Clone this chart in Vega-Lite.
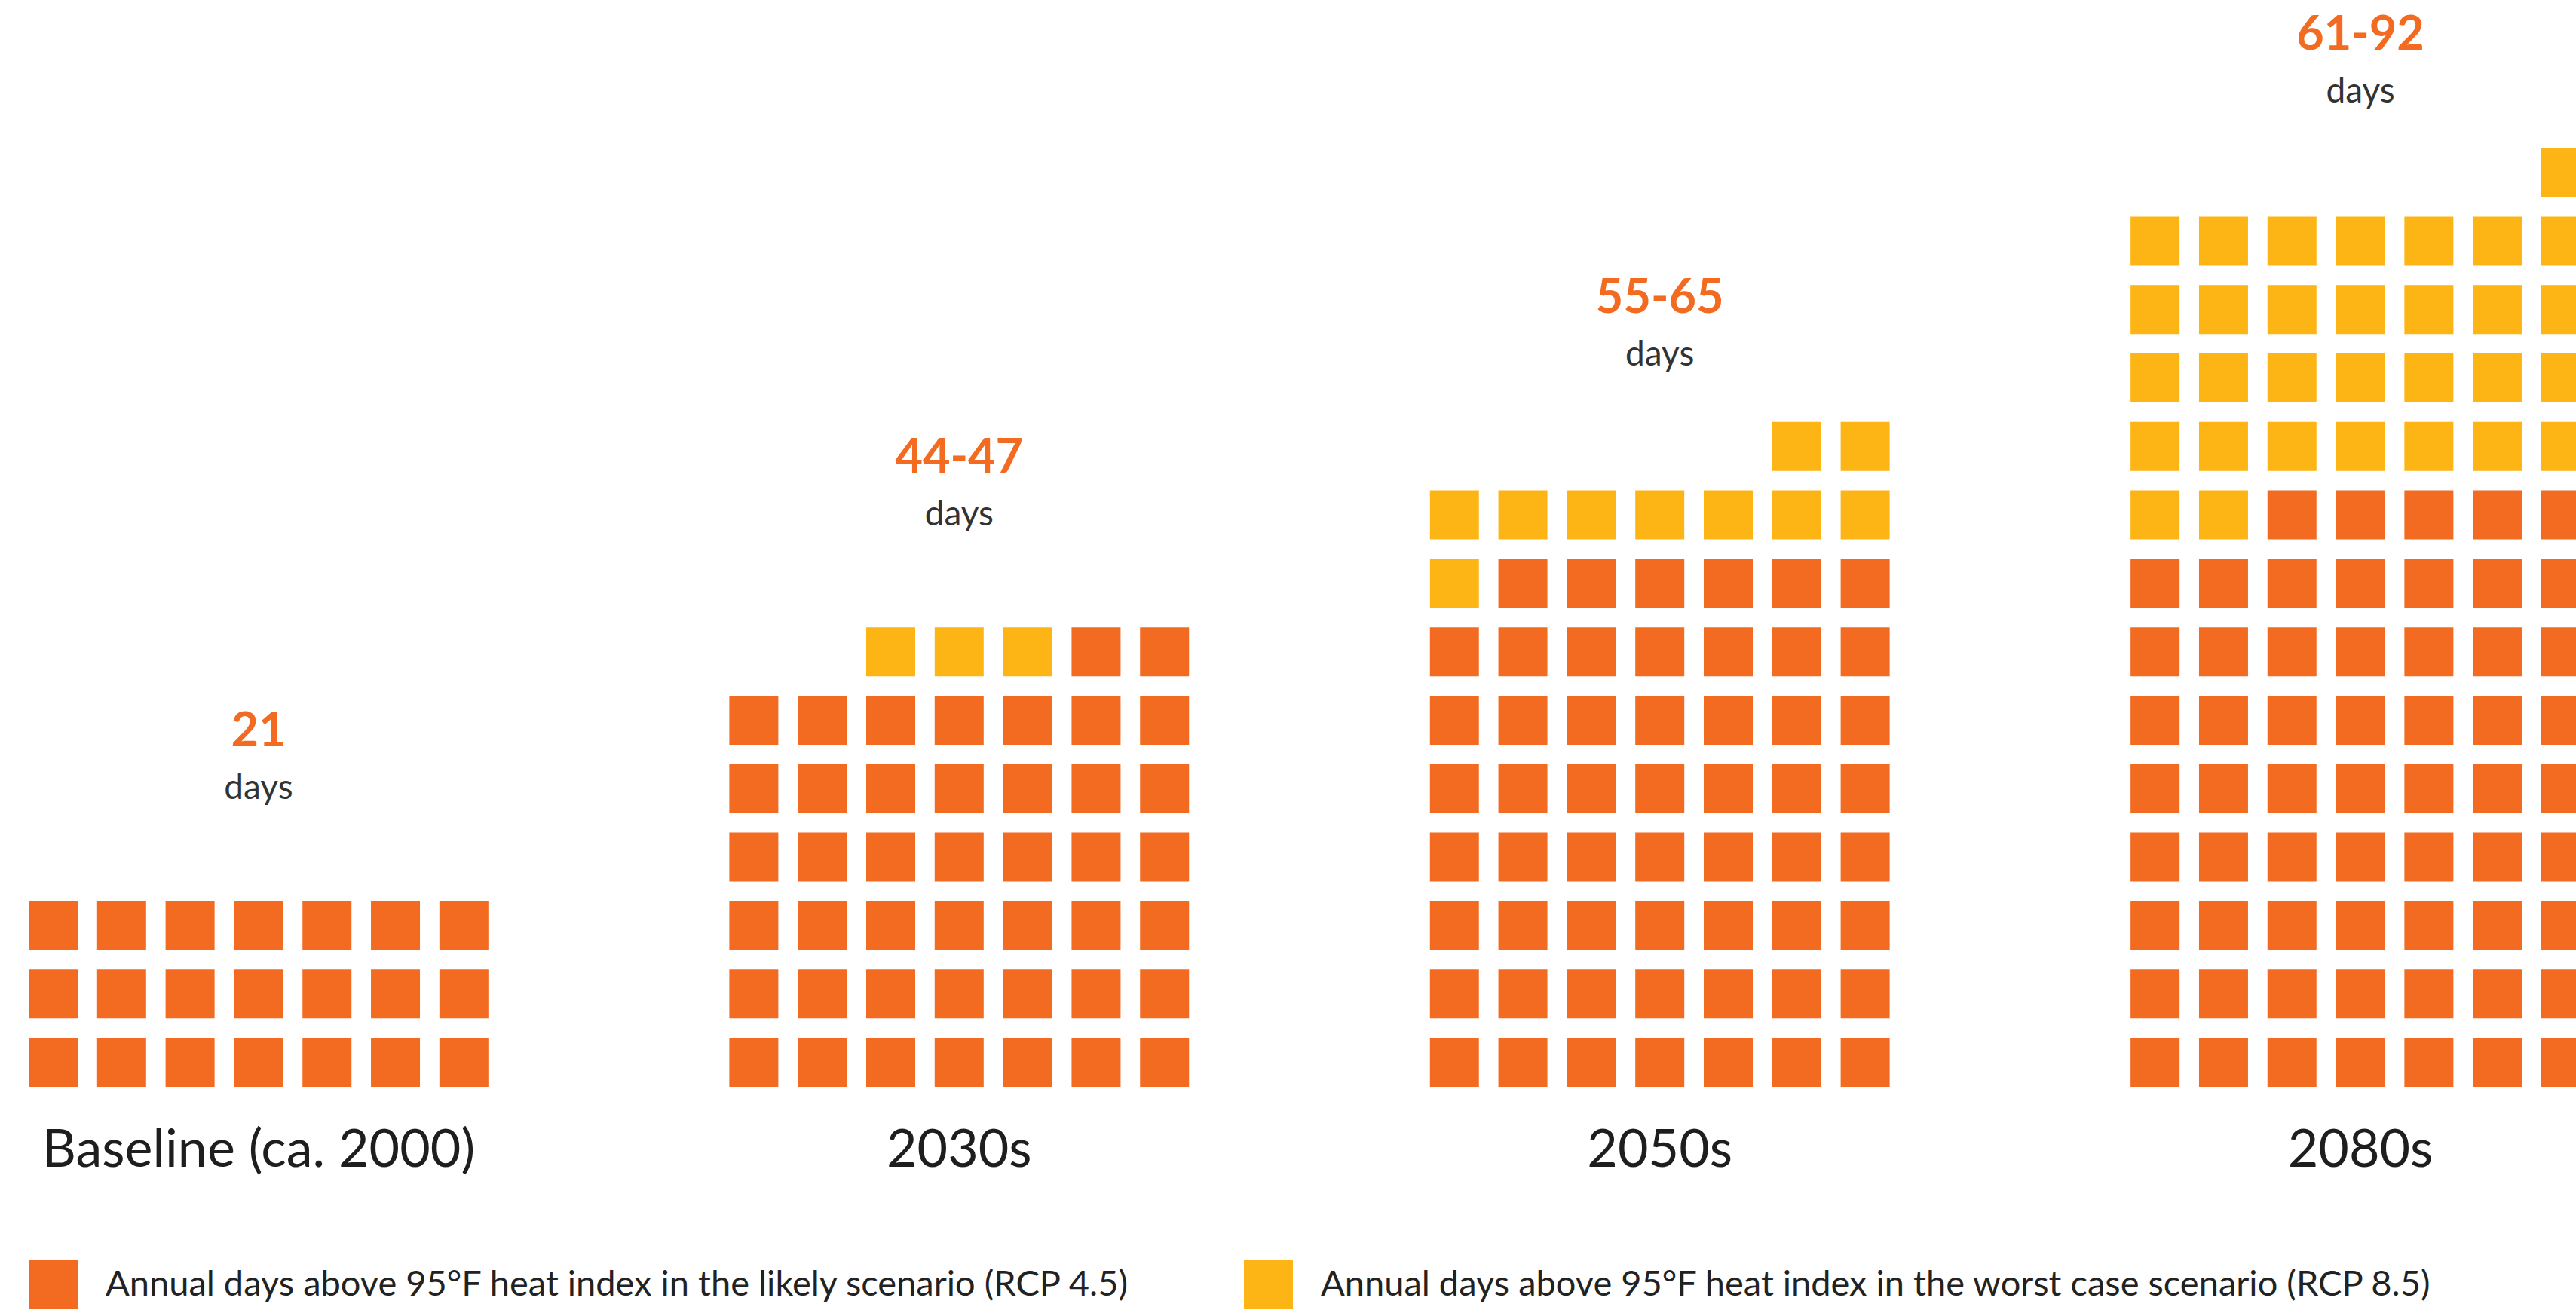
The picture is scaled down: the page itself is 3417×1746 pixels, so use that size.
{
"$schema": "https://vega.github.io/schema/vega-lite/v6.json",
"width": 3417, "height": 1746, "padding": 0,
"autosize": {"type": "none"},
"background": "white",
"config": {"view": {"stroke": null}, "font": "Lato"},
"datasets": {
"labels": [
{"p":"Baseline (ca. 2000)","range":"21","labelRow":4.849},
{"p":"2030s","range":"44-47","labelRow":8.847},
{"p":"2050s","range":"55-65","labelRow":11.182},
{"p":"2080s","range":"61-92","labelRow":15.026}
],
"cells": [
{"p":"Baseline (ca. 2000)","c":1,"r":1,"s":"RCP 4.5"},{"p":"Baseline (ca. 2000)","c":2,"r":1,"s":"RCP 4.5"},{"p":"Baseline (ca. 2000)","c":3,"r":1,"s":"RCP 4.5"},{"p":"Baseline (ca. 2000)","c":4,"r":1,"s":"RCP 4.5"},{"p":"Baseline (ca. 2000)","c":5,"r":1,"s":"RCP 4.5"},{"p":"Baseline (ca. 2000)","c":6,"r":1,"s":"RCP 4.5"},{"p":"Baseline (ca. 2000)","c":7,"r":1,"s":"RCP 4.5"},
{"p":"Baseline (ca. 2000)","c":1,"r":2,"s":"RCP 4.5"},{"p":"Baseline (ca. 2000)","c":2,"r":2,"s":"RCP 4.5"},{"p":"Baseline (ca. 2000)","c":3,"r":2,"s":"RCP 4.5"},{"p":"Baseline (ca. 2000)","c":4,"r":2,"s":"RCP 4.5"},{"p":"Baseline (ca. 2000)","c":5,"r":2,"s":"RCP 4.5"},{"p":"Baseline (ca. 2000)","c":6,"r":2,"s":"RCP 4.5"},{"p":"Baseline (ca. 2000)","c":7,"r":2,"s":"RCP 4.5"},
{"p":"Baseline (ca. 2000)","c":1,"r":3,"s":"RCP 4.5"},{"p":"Baseline (ca. 2000)","c":2,"r":3,"s":"RCP 4.5"},{"p":"Baseline (ca. 2000)","c":3,"r":3,"s":"RCP 4.5"},{"p":"Baseline (ca. 2000)","c":4,"r":3,"s":"RCP 4.5"},{"p":"Baseline (ca. 2000)","c":5,"r":3,"s":"RCP 4.5"},{"p":"Baseline (ca. 2000)","c":6,"r":3,"s":"RCP 4.5"},{"p":"Baseline (ca. 2000)","c":7,"r":3,"s":"RCP 4.5"},

{"p":"2030s","c":1,"r":1,"s":"RCP 4.5"},{"p":"2030s","c":2,"r":1,"s":"RCP 4.5"},{"p":"2030s","c":3,"r":1,"s":"RCP 4.5"},{"p":"2030s","c":4,"r":1,"s":"RCP 4.5"},{"p":"2030s","c":5,"r":1,"s":"RCP 4.5"},{"p":"2030s","c":6,"r":1,"s":"RCP 4.5"},{"p":"2030s","c":7,"r":1,"s":"RCP 4.5"},
{"p":"2030s","c":1,"r":2,"s":"RCP 4.5"},{"p":"2030s","c":2,"r":2,"s":"RCP 4.5"},{"p":"2030s","c":3,"r":2,"s":"RCP 4.5"},{"p":"2030s","c":4,"r":2,"s":"RCP 4.5"},{"p":"2030s","c":5,"r":2,"s":"RCP 4.5"},{"p":"2030s","c":6,"r":2,"s":"RCP 4.5"},{"p":"2030s","c":7,"r":2,"s":"RCP 4.5"},
{"p":"2030s","c":1,"r":3,"s":"RCP 4.5"},{"p":"2030s","c":2,"r":3,"s":"RCP 4.5"},{"p":"2030s","c":3,"r":3,"s":"RCP 4.5"},{"p":"2030s","c":4,"r":3,"s":"RCP 4.5"},{"p":"2030s","c":5,"r":3,"s":"RCP 4.5"},{"p":"2030s","c":6,"r":3,"s":"RCP 4.5"},{"p":"2030s","c":7,"r":3,"s":"RCP 4.5"},
{"p":"2030s","c":1,"r":4,"s":"RCP 4.5"},{"p":"2030s","c":2,"r":4,"s":"RCP 4.5"},{"p":"2030s","c":3,"r":4,"s":"RCP 4.5"},{"p":"2030s","c":4,"r":4,"s":"RCP 4.5"},{"p":"2030s","c":5,"r":4,"s":"RCP 4.5"},{"p":"2030s","c":6,"r":4,"s":"RCP 4.5"},{"p":"2030s","c":7,"r":4,"s":"RCP 4.5"},
{"p":"2030s","c":1,"r":5,"s":"RCP 4.5"},{"p":"2030s","c":2,"r":5,"s":"RCP 4.5"},{"p":"2030s","c":3,"r":5,"s":"RCP 4.5"},{"p":"2030s","c":4,"r":5,"s":"RCP 4.5"},{"p":"2030s","c":5,"r":5,"s":"RCP 4.5"},{"p":"2030s","c":6,"r":5,"s":"RCP 4.5"},{"p":"2030s","c":7,"r":5,"s":"RCP 4.5"},
{"p":"2030s","c":1,"r":6,"s":"RCP 4.5"},{"p":"2030s","c":2,"r":6,"s":"RCP 4.5"},{"p":"2030s","c":3,"r":6,"s":"RCP 4.5"},{"p":"2030s","c":4,"r":6,"s":"RCP 4.5"},{"p":"2030s","c":5,"r":6,"s":"RCP 4.5"},{"p":"2030s","c":6,"r":6,"s":"RCP 4.5"},{"p":"2030s","c":7,"r":6,"s":"RCP 4.5"},
{"p":"2030s","c":3,"r":7,"s":"RCP 8.5"},{"p":"2030s","c":4,"r":7,"s":"RCP 8.5"},{"p":"2030s","c":5,"r":7,"s":"RCP 8.5"},{"p":"2030s","c":6,"r":7,"s":"RCP 4.5"},{"p":"2030s","c":7,"r":7,"s":"RCP 4.5"},

{"p":"2050s","c":1,"r":1,"s":"RCP 4.5"},{"p":"2050s","c":2,"r":1,"s":"RCP 4.5"},{"p":"2050s","c":3,"r":1,"s":"RCP 4.5"},{"p":"2050s","c":4,"r":1,"s":"RCP 4.5"},{"p":"2050s","c":5,"r":1,"s":"RCP 4.5"},{"p":"2050s","c":6,"r":1,"s":"RCP 4.5"},{"p":"2050s","c":7,"r":1,"s":"RCP 4.5"},
{"p":"2050s","c":1,"r":2,"s":"RCP 4.5"},{"p":"2050s","c":2,"r":2,"s":"RCP 4.5"},{"p":"2050s","c":3,"r":2,"s":"RCP 4.5"},{"p":"2050s","c":4,"r":2,"s":"RCP 4.5"},{"p":"2050s","c":5,"r":2,"s":"RCP 4.5"},{"p":"2050s","c":6,"r":2,"s":"RCP 4.5"},{"p":"2050s","c":7,"r":2,"s":"RCP 4.5"},
{"p":"2050s","c":1,"r":3,"s":"RCP 4.5"},{"p":"2050s","c":2,"r":3,"s":"RCP 4.5"},{"p":"2050s","c":3,"r":3,"s":"RCP 4.5"},{"p":"2050s","c":4,"r":3,"s":"RCP 4.5"},{"p":"2050s","c":5,"r":3,"s":"RCP 4.5"},{"p":"2050s","c":6,"r":3,"s":"RCP 4.5"},{"p":"2050s","c":7,"r":3,"s":"RCP 4.5"},
{"p":"2050s","c":1,"r":4,"s":"RCP 4.5"},{"p":"2050s","c":2,"r":4,"s":"RCP 4.5"},{"p":"2050s","c":3,"r":4,"s":"RCP 4.5"},{"p":"2050s","c":4,"r":4,"s":"RCP 4.5"},{"p":"2050s","c":5,"r":4,"s":"RCP 4.5"},{"p":"2050s","c":6,"r":4,"s":"RCP 4.5"},{"p":"2050s","c":7,"r":4,"s":"RCP 4.5"},
{"p":"2050s","c":1,"r":5,"s":"RCP 4.5"},{"p":"2050s","c":2,"r":5,"s":"RCP 4.5"},{"p":"2050s","c":3,"r":5,"s":"RCP 4.5"},{"p":"2050s","c":4,"r":5,"s":"RCP 4.5"},{"p":"2050s","c":5,"r":5,"s":"RCP 4.5"},{"p":"2050s","c":6,"r":5,"s":"RCP 4.5"},{"p":"2050s","c":7,"r":5,"s":"RCP 4.5"},
{"p":"2050s","c":1,"r":6,"s":"RCP 4.5"},{"p":"2050s","c":2,"r":6,"s":"RCP 4.5"},{"p":"2050s","c":3,"r":6,"s":"RCP 4.5"},{"p":"2050s","c":4,"r":6,"s":"RCP 4.5"},{"p":"2050s","c":5,"r":6,"s":"RCP 4.5"},{"p":"2050s","c":6,"r":6,"s":"RCP 4.5"},{"p":"2050s","c":7,"r":6,"s":"RCP 4.5"},
{"p":"2050s","c":1,"r":7,"s":"RCP 4.5"},{"p":"2050s","c":2,"r":7,"s":"RCP 4.5"},{"p":"2050s","c":3,"r":7,"s":"RCP 4.5"},{"p":"2050s","c":4,"r":7,"s":"RCP 4.5"},{"p":"2050s","c":5,"r":7,"s":"RCP 4.5"},{"p":"2050s","c":6,"r":7,"s":"RCP 4.5"},{"p":"2050s","c":7,"r":7,"s":"RCP 4.5"},
{"p":"2050s","c":1,"r":8,"s":"RCP 8.5"},{"p":"2050s","c":2,"r":8,"s":"RCP 4.5"},{"p":"2050s","c":3,"r":8,"s":"RCP 4.5"},{"p":"2050s","c":4,"r":8,"s":"RCP 4.5"},{"p":"2050s","c":5,"r":8,"s":"RCP 4.5"},{"p":"2050s","c":6,"r":8,"s":"RCP 4.5"},{"p":"2050s","c":7,"r":8,"s":"RCP 4.5"},
{"p":"2050s","c":1,"r":9,"s":"RCP 8.5"},{"p":"2050s","c":2,"r":9,"s":"RCP 8.5"},{"p":"2050s","c":3,"r":9,"s":"RCP 8.5"},{"p":"2050s","c":4,"r":9,"s":"RCP 8.5"},{"p":"2050s","c":5,"r":9,"s":"RCP 8.5"},{"p":"2050s","c":6,"r":9,"s":"RCP 8.5"},{"p":"2050s","c":7,"r":9,"s":"RCP 8.5"},
{"p":"2050s","c":6,"r":10,"s":"RCP 8.5"},{"p":"2050s","c":7,"r":10,"s":"RCP 8.5"},

{"p":"2080s","c":1,"r":1,"s":"RCP 4.5"},{"p":"2080s","c":2,"r":1,"s":"RCP 4.5"},{"p":"2080s","c":3,"r":1,"s":"RCP 4.5"},{"p":"2080s","c":4,"r":1,"s":"RCP 4.5"},{"p":"2080s","c":5,"r":1,"s":"RCP 4.5"},{"p":"2080s","c":6,"r":1,"s":"RCP 4.5"},{"p":"2080s","c":7,"r":1,"s":"RCP 4.5"},
{"p":"2080s","c":1,"r":2,"s":"RCP 4.5"},{"p":"2080s","c":2,"r":2,"s":"RCP 4.5"},{"p":"2080s","c":3,"r":2,"s":"RCP 4.5"},{"p":"2080s","c":4,"r":2,"s":"RCP 4.5"},{"p":"2080s","c":5,"r":2,"s":"RCP 4.5"},{"p":"2080s","c":6,"r":2,"s":"RCP 4.5"},{"p":"2080s","c":7,"r":2,"s":"RCP 4.5"},
{"p":"2080s","c":1,"r":3,"s":"RCP 4.5"},{"p":"2080s","c":2,"r":3,"s":"RCP 4.5"},{"p":"2080s","c":3,"r":3,"s":"RCP 4.5"},{"p":"2080s","c":4,"r":3,"s":"RCP 4.5"},{"p":"2080s","c":5,"r":3,"s":"RCP 4.5"},{"p":"2080s","c":6,"r":3,"s":"RCP 4.5"},{"p":"2080s","c":7,"r":3,"s":"RCP 4.5"},
{"p":"2080s","c":1,"r":4,"s":"RCP 4.5"},{"p":"2080s","c":2,"r":4,"s":"RCP 4.5"},{"p":"2080s","c":3,"r":4,"s":"RCP 4.5"},{"p":"2080s","c":4,"r":4,"s":"RCP 4.5"},{"p":"2080s","c":5,"r":4,"s":"RCP 4.5"},{"p":"2080s","c":6,"r":4,"s":"RCP 4.5"},{"p":"2080s","c":7,"r":4,"s":"RCP 4.5"},
{"p":"2080s","c":1,"r":5,"s":"RCP 4.5"},{"p":"2080s","c":2,"r":5,"s":"RCP 4.5"},{"p":"2080s","c":3,"r":5,"s":"RCP 4.5"},{"p":"2080s","c":4,"r":5,"s":"RCP 4.5"},{"p":"2080s","c":5,"r":5,"s":"RCP 4.5"},{"p":"2080s","c":6,"r":5,"s":"RCP 4.5"},{"p":"2080s","c":7,"r":5,"s":"RCP 4.5"},
{"p":"2080s","c":1,"r":6,"s":"RCP 4.5"},{"p":"2080s","c":2,"r":6,"s":"RCP 4.5"},{"p":"2080s","c":3,"r":6,"s":"RCP 4.5"},{"p":"2080s","c":4,"r":6,"s":"RCP 4.5"},{"p":"2080s","c":5,"r":6,"s":"RCP 4.5"},{"p":"2080s","c":6,"r":6,"s":"RCP 4.5"},{"p":"2080s","c":7,"r":6,"s":"RCP 4.5"},
{"p":"2080s","c":1,"r":7,"s":"RCP 4.5"},{"p":"2080s","c":2,"r":7,"s":"RCP 4.5"},{"p":"2080s","c":3,"r":7,"s":"RCP 4.5"},{"p":"2080s","c":4,"r":7,"s":"RCP 4.5"},{"p":"2080s","c":5,"r":7,"s":"RCP 4.5"},{"p":"2080s","c":6,"r":7,"s":"RCP 4.5"},{"p":"2080s","c":7,"r":7,"s":"RCP 4.5"},
{"p":"2080s","c":1,"r":8,"s":"RCP 4.5"},{"p":"2080s","c":2,"r":8,"s":"RCP 4.5"},{"p":"2080s","c":3,"r":8,"s":"RCP 4.5"},{"p":"2080s","c":4,"r":8,"s":"RCP 4.5"},{"p":"2080s","c":5,"r":8,"s":"RCP 4.5"},{"p":"2080s","c":6,"r":8,"s":"RCP 4.5"},{"p":"2080s","c":7,"r":8,"s":"RCP 4.5"},
{"p":"2080s","c":1,"r":9,"s":"RCP 8.5"},{"p":"2080s","c":2,"r":9,"s":"RCP 8.5"},{"p":"2080s","c":3,"r":9,"s":"RCP 4.5"},{"p":"2080s","c":4,"r":9,"s":"RCP 4.5"},{"p":"2080s","c":5,"r":9,"s":"RCP 4.5"},{"p":"2080s","c":6,"r":9,"s":"RCP 4.5"},{"p":"2080s","c":7,"r":9,"s":"RCP 4.5"},
{"p":"2080s","c":1,"r":10,"s":"RCP 8.5"},{"p":"2080s","c":2,"r":10,"s":"RCP 8.5"},{"p":"2080s","c":3,"r":10,"s":"RCP 8.5"},{"p":"2080s","c":4,"r":10,"s":"RCP 8.5"},{"p":"2080s","c":5,"r":10,"s":"RCP 8.5"},{"p":"2080s","c":6,"r":10,"s":"RCP 8.5"},{"p":"2080s","c":7,"r":10,"s":"RCP 8.5"},
{"p":"2080s","c":1,"r":11,"s":"RCP 8.5"},{"p":"2080s","c":2,"r":11,"s":"RCP 8.5"},{"p":"2080s","c":3,"r":11,"s":"RCP 8.5"},{"p":"2080s","c":4,"r":11,"s":"RCP 8.5"},{"p":"2080s","c":5,"r":11,"s":"RCP 8.5"},{"p":"2080s","c":6,"r":11,"s":"RCP 8.5"},{"p":"2080s","c":7,"r":11,"s":"RCP 8.5"},
{"p":"2080s","c":1,"r":12,"s":"RCP 8.5"},{"p":"2080s","c":2,"r":12,"s":"RCP 8.5"},{"p":"2080s","c":3,"r":12,"s":"RCP 8.5"},{"p":"2080s","c":4,"r":12,"s":"RCP 8.5"},{"p":"2080s","c":5,"r":12,"s":"RCP 8.5"},{"p":"2080s","c":6,"r":12,"s":"RCP 8.5"},{"p":"2080s","c":7,"r":12,"s":"RCP 8.5"},
{"p":"2080s","c":1,"r":13,"s":"RCP 8.5"},{"p":"2080s","c":2,"r":13,"s":"RCP 8.5"},{"p":"2080s","c":3,"r":13,"s":"RCP 8.5"},{"p":"2080s","c":4,"r":13,"s":"RCP 8.5"},{"p":"2080s","c":5,"r":13,"s":"RCP 8.5"},{"p":"2080s","c":6,"r":13,"s":"RCP 8.5"},{"p":"2080s","c":7,"r":13,"s":"RCP 8.5"},
{"p":"2080s","c":7,"r":14,"s":"RCP 8.5"}
]
},
"layer": [
{"data": {"name": "cells"},
 "mark": {"type": "square", "filled": true, "opacity": 1, "size": 4225, "strokeWidth": 0},
 "encoding": {
  "x": {"field": "p", "type": "nominal", "axis": null,
        "scale": {"domain": ["Baseline (ca. 2000)", "2030s", "2050s", "2080s"], "range": [38, 3436], "paddingInner": 0.3438, "paddingOuter": 0}},
  "xOffset": {"field": "c", "type": "ordinal", "scale": {"type": "point", "padding": 0.358}},
  "y": {"field": "r", "type": "quantitative", "axis": null, "scale": {"domain": [-2.706, 16.523], "nice": false, "zero": false}},
  "color": {"field": "s", "type": "nominal",
    "scale": {"domain": ["RCP 4.5", "RCP 8.5"], "range": ["#F26B21", "#FDB515"]},
    "legend": {"orient": "none", "legendX": 38, "legendY": 1672, "direction": "horizontal", "title": null,
      "symbolType": "square", "symbolSize": 4225, "symbolStrokeWidth": 0, "symbolOpacity": 1,
      "labelFont": "Lato", "labelFontSize": 47, "labelColor": "#222222", "labelLimit": 3000,
      "labelOffset": 37, "columnPadding": 150, "padding": 0,
      "labelExpr": "'Annual days above 95°F heat index in the ' + (datum.label == 'RCP 4.5' ? 'likely' : 'worst case') + ' scenario (' + datum.label + ')'"}}
 }},
{"data": {"name": "labels"},
 "mark": {"type": "text", "font": "Lato", "fontSize": 46, "color": "#333333", "baseline": "alphabetic", "align": "center"},
 "encoding": {
  "x": {"field": "p", "type": "nominal"},
  "y": {"field": "labelRow", "type": "quantitative"},
  "text": {"value": "days"}
 }},
{"data": {"name": "labels"},
 "mark": {"type": "text", "font": "Lato", "fontSize": 63, "fontWeight": "bold", "color": "#F26B21", "baseline": "alphabetic", "align": "center", "dy": -70},
 "encoding": {
  "x": {"field": "p", "type": "nominal"},
  "y": {"field": "labelRow", "type": "quantitative"},
  "text": {"field": "range"}
 }},
{"data": {"name": "labels"},
 "mark": {"type": "text", "font": "Lato", "fontSize": 70, "color": "#1e1e1e", "baseline": "alphabetic", "align": "center"},
 "encoding": {
  "x": {"field": "p", "type": "nominal"},
  "y": {"datum": -0.525, "type": "quantitative"},
  "text": {"field": "p"}
 }}
]
}
